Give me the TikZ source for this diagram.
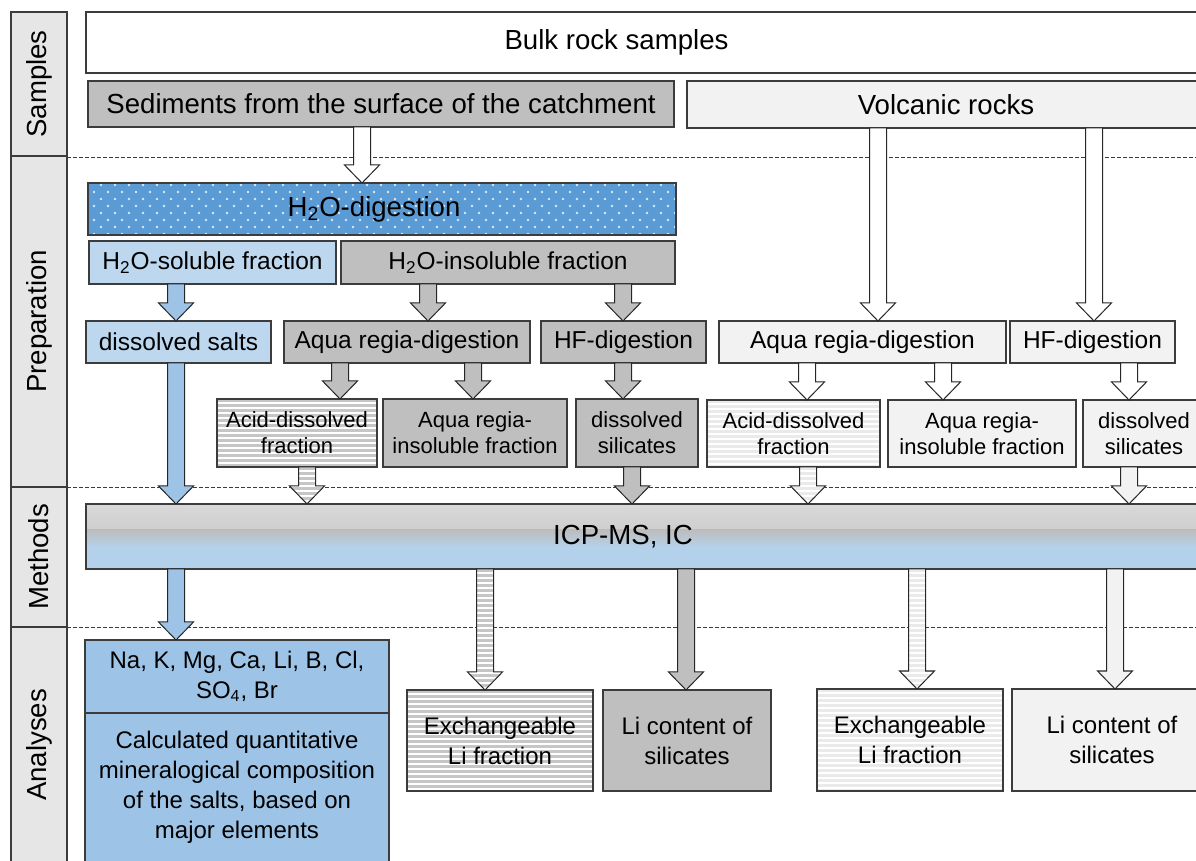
\documentclass[tikz,border=0pt]{standalone}
\usepackage{fontspec}
\setmainfont{Liberation Sans}
\usetikzlibrary{calc}
\definecolor{cBlue}{HTML}{5B9BD5}
\definecolor{cMid}{HTML}{9DC3E6}
\definecolor{cLight}{HTML}{BDD7EE}
\definecolor{cGray}{HTML}{BFBFBF}
\definecolor{cLgray}{HTML}{F2F2F2}
\definecolor{cCol}{HTML}{E6E6E6}
\definecolor{cLine}{HTML}{3C3C3C}
\definecolor{cStripeG}{HTML}{C6C6C6}
\definecolor{cStripeL}{HTML}{EAEAEA}
\definecolor{cDot}{HTML}{DDE9F6}
\definecolor{icpA}{HTML}{D9D9D9}
\definecolor{icpB}{HTML}{BDBDBD}
\definecolor{icpC}{HTML}{B4D1EB}
\tikzset{
  bx/.style={draw=cLine, line width=0.6pt, inner sep=0pt, outer sep=0pt, align=center, text=black},
  big/.style={font=\fontsize{13.8pt}{16pt}\selectfont},
  mid/.style={font=\fontsize{12.25pt}{15pt}\selectfont},
  sml/.style={font=\fontsize{11pt}{13pt}\selectfont},
  btm/.style={font=\fontsize{12pt}{15pt}\selectfont},
  arw/.style={draw=black!85, line width=0.5pt},
  stripes/.style={fill=white, path picture={
    \foreach \k in {0,...,44}{
      \fill[#1] ([yshift={-\k*2.5pt}]path picture bounding box.north west) rectangle ([yshift={-\k*2.5pt-1.4pt}]path picture bounding box.north east);}}},
  dotted fill/.style={fill=cBlue, path picture={
    \foreach \r in {0,...,7}{
      \foreach \c in {0,...,43}{
        \fill[cDot] ([shift={({6+7*mod(\r+1,2)+14*\c},{2+7*\r})}]path picture bounding box.north west) circle (0.7pt);}}}},
  icpshade/.style={path picture={
    \shade[top color=icpA, bottom color=icpB] (path picture bounding box.north west) rectangle ([yshift=-13pt]path picture bounding box.north east);
    \shade[top color=icpB, bottom color=icpC] ([yshift=-13pt]path picture bounding box.north west) rectangle ([yshift=-21.5pt]path picture bounding box.north east);
    \fill[icpC] ([yshift=-21.5pt]path picture bounding box.north west) rectangle (path picture bounding box.south east);}},
  dl/.style={draw=cLine, line width=0.4pt, dash pattern=on 2pt off 1pt}
}
% box: name, x1, y1, x2, y2, style, text
\newcommand\bx[7]{\node[bx,#6, minimum width={(#4-#2)*0.5pt}, minimum height={(#5-#3)*0.5pt}, anchor=north west] (#1) at (#2,#3) {#7};}
% block arrow: style, from, to, x (px)
\newcommand\barrow[4]{%
  \draw[arw,#1] let \p1=(#2.south), \p2=(#3.north), \p3=(#4,0) in
    (\x3-4.25pt,\y1) -- (\x3-4.25pt,\y2+9pt) -- (\x3-8.75pt,\y2+9pt) -- (\x3,\y2)
    -- (\x3+8.75pt,\y2+9pt) -- (\x3+4.25pt,\y2+9pt) -- (\x3+4.25pt,\y1) -- cycle;}
\begin{document}
\begin{tikzpicture}[x=0.5pt,y=-0.5pt]
\useasboundingbox (0,0) rectangle (1196,861);
\clip (0,0) rectangle (1196,861);
% section separators
\draw[dl] (67,157) -- (1196,157);
\draw[dl] (67,487) -- (1196,487);
\draw[dl] (67,627) -- (1196,627);
% left column
\node[bx, fill=cCol, big, rotate=90, minimum width=72pt, minimum height=28pt] (colS) at (39,84) {Samples};
\node[bx, fill=cCol, big, rotate=90, minimum width=165.5pt, minimum height=28pt] (colP) at (39,321.5) {Preparation};
\node[bx, fill=cCol, big, rotate=90, minimum width=70pt, minimum height=28pt] (colM) at (39,557) {Methods};
\node[bx, fill=cCol, big, rotate=90, minimum width=118pt, minimum height=28pt] (colA) at (39,745) {Analyses};
% samples
\bx{bulk}{86}{12}{1205}{73}{fill=white, big}{Bulk rock samples\hspace*{29pt}}
\bx{sed}{88}{81}{674}{127}{fill=cGray, big}{Sediments from the surface of the catchment}
\bx{vol}{687}{81}{1205}{128}{fill=cLgray, big}{Volcanic rocks}
% preparation
\bx{h2o}{88}{183}{676}{235}{dotted fill, big}{H\textsubscript{2}O-digestion\hspace*{8pt}}
\bx{sol}{89}{241}{336}{284}{fill=cLight, mid}{H\textsubscript{2}O-soluble fraction}
\bx{insol}{341}{241}{675}{284}{fill=cGray, mid}{H\textsubscript{2}O-insoluble fraction}
\bx{salts}{86}{321}{271}{363}{fill=cLight, mid}{dissolved salts}
\bx{aquaG}{284}{321}{530}{363}{fill=cGray, mid}{Aqua regia-digestion}
\bx{hfG}{541}{321}{706}{363}{fill=cGray, mid}{HF-digestion}
\bx{aquaL}{719}{321}{1006}{363}{fill=cLgray, mid}{Aqua regia-digestion}
\bx{hfL}{1010}{321}{1175}{363}{fill=cLgray, mid}{HF-digestion}
\bx{acidG}{217}{399}{377}{467}{stripes=cStripeG, sml}{Acid-dissolved\\fraction}
\bx{aquaInsG}{383}{399}{567}{467}{fill=cGray, sml}{Aqua regia-\\insoluble fraction}
\bx{dsilG}{576}{399}{698}{467}{fill=cGray, sml}{dissolved\\silicates}
\bx{acidL}{707}{400}{880}{467}{stripes=cStripeL, sml}{Acid-dissolved\\fraction}
\bx{aquaInsL}{888}{400}{1076}{467}{fill=cLgray, sml}{Aqua regia-\\insoluble fraction}
\bx{dsilL}{1083}{400}{1205}{467}{fill=cLgray, sml}{dissolved\\silicates}
% methods
\bx{icp}{86}{504}{1205}{569}{icpshade, big}{ICP-MS, IC\hspace*{22.5pt}}
% analyses
\bx{anaTop}{85}{640}{389}{713}{fill=cMid, btm}{Na, K, Mg, Ca, Li, B, Cl,\\SO\textsubscript{4}, Br}
\bx{anaBot}{85}{713}{389}{862}{fill=cMid, btm}{Calculated quantitative\\mineralogical composition\\of the salts, based on\\major elements}
\bx{exG}{407}{690}{593}{791}{stripes=cStripeG, btm}{Exchangeable\\Li fraction}
\bx{liG}{603}{690}{771}{791}{fill=cGray, btm}{Li content of\\silicates}
\bx{exL}{817}{689}{1003}{791}{stripes=cStripeL, btm}{Exchangeable\\Li fraction}
\bx{liL}{1012}{689}{1212}{791}{fill=cLgray, btm}{Li content of\\silicates}
% arrows
\barrow{fill=white}{sed}{h2o}{362}
\barrow{fill=white}{vol}{aquaL}{878}
\barrow{fill=white}{vol}{hfL}{1094}
\barrow{fill=cMid}{sol}{salts}{176}
\barrow{fill=cGray}{insol}{aquaG}{428}
\barrow{fill=cGray}{insol}{hfG}{623}
\barrow{fill=cGray}{aquaG}{acidG}{340}
\barrow{fill=cGray}{aquaG}{aquaInsG}{473}
\barrow{fill=cGray}{hfG}{dsilG}{623}
\barrow{fill=white}{aquaL}{acidL}{807}
\barrow{fill=white}{aquaL}{aquaInsL}{943}
\barrow{fill=white}{hfL}{dsilL}{1129}
\barrow{fill=cMid}{salts}{icp}{176}
\barrow{stripes=cStripeG}{acidG}{icp}{307}
\barrow{fill=cGray}{dsilG}{icp}{632}
\barrow{stripes=cStripeL}{acidL}{icp}{808}
\barrow{fill=cLgray}{dsilL}{icp}{1129}
\barrow{fill=cMid}{icp}{anaTop}{176}
\barrow{stripes=cStripeG}{icp}{exG}{485}
\barrow{fill=cGray}{icp}{liG}{686}
\barrow{stripes=cStripeL}{icp}{exL}{917}
\barrow{fill=cLgray}{icp}{liL}{1115}
\end{tikzpicture}
\end{document}
